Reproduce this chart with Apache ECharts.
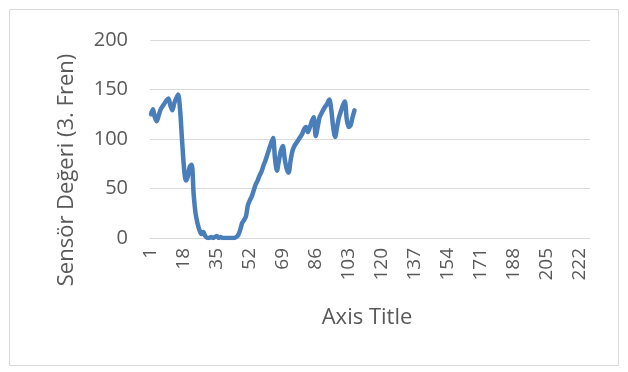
<!DOCTYPE html>
<html><head><meta charset="utf-8">
<script src="https://cdn.jsdelivr.net/npm/echarts@6/dist/echarts.min.js"></script>
<style>html,body{margin:0;padding:0;background:#fff}#c{width:628px;height:372px}</style>
</head><body><div id="c"></div>
<script>
const categoryCount = 227;
const categories = Array.from({length: categoryCount}, (_, i) => String(i + 1));
const sensorValues = [
125,130,122,118,124,130,133,136,139,141,134,129,136,141,145,130,100,72,58,62,
72,74,45,25,15,8,4,6,2,0,0,1,0,1,2,0,1,0,0,0,
0,0,0,0,1,3,8,15,18,22,33,38,42,48,54,58,63,67,73,78,
84,90,96,101,80,68,78,88,93,80,70,66,78,88,93,96,99,102,105,110,
112,107,112,118,122,103,112,122,126,130,133,136,140,130,112,102,112,122,128,134,
138,120,112,114,122,129
];
const yTicks = {min: 0, max: 200, interval: 50};
const yTitle = 'Sensör Değeri (3. Fren)';
const xTitle = 'Axis Title';

const chart = echarts.init(document.getElementById('c'), null, {renderer: 'canvas'});
const font = '"Open Sans", "Liberation Sans", sans-serif';
chart.setOption({
  animation: false,
  backgroundColor: '#fff',
  graphic: [
    {type: 'rect', shape: {x: 9.5, y: 9.5, width: 609, height: 356}, style: {fill: 'none', stroke: '#d9d9d9', lineWidth: 1}},
    {type: 'text', x: 67, y: 170, rotation: Math.PI / 2,
     style: {text: yTitle, fill: '#595959', fontSize: 22, fontFamily: font, align: 'center', verticalAlign: 'middle'}},
    {type: 'text', x: 367, y: 318,
     style: {text: xTitle, fill: '#595959', fontSize: 22, fontFamily: font, align: 'center', verticalAlign: 'middle'}}
  ],
  grid: {left: 150, right: 38, top: 40, bottom: 134},
  xAxis: {
    type: 'category', data: categories, boundaryGap: true,
    axisLine: {lineStyle: {color: '#d9d9d9', width: 1}},
    axisTick: {show: false},
    axisLabel: {interval: 16, rotate: 90, color: '#595959', fontSize: 19, fontFamily: font, margin: 10}
  },
  yAxis: {
    type: 'value', min: yTicks.min, max: yTicks.max, interval: yTicks.interval,
    axisLine: {show: false}, axisTick: {show: false},
    splitLine: {lineStyle: {color: '#d9d9d9', width: 1}},
    axisLabel: {color: '#595959', fontSize: 20, fontFamily: font, margin: 22}
  },
  series: [{
    type: 'line', data: sensorValues, smooth: 0.3, showSymbol: false,
    lineStyle: {color: '#4a7ebb', width: 4.5, cap: 'round', join: 'round'}
  }]
});
</script></body></html>
